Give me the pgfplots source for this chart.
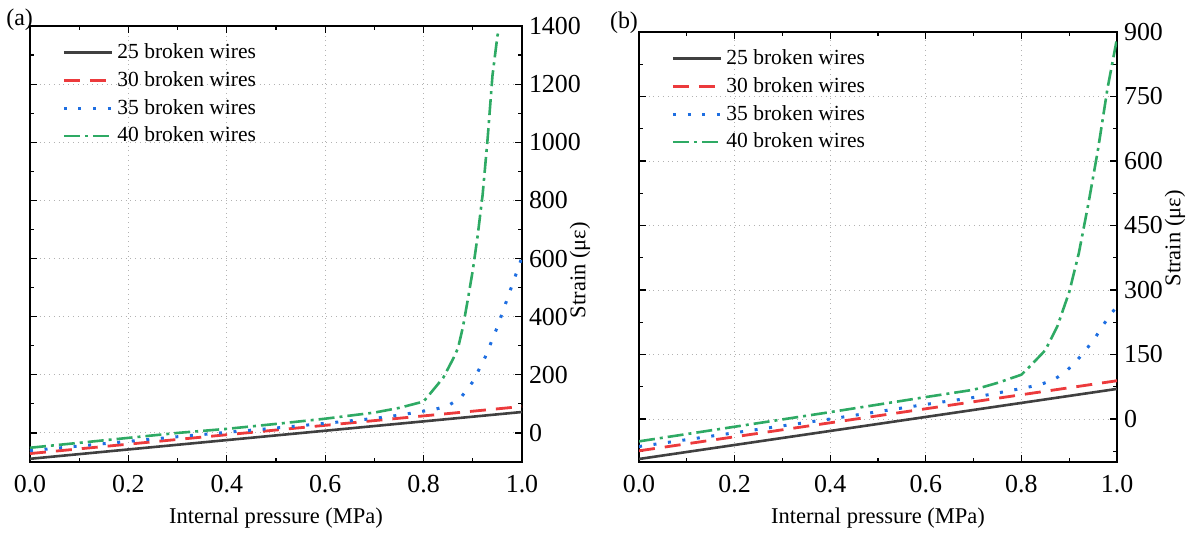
\documentclass[border=0pt]{standalone}
\usepackage{fontspec}
\setmainfont{Liberation Serif}
\usepackage{pgfplots}
\pgfplotsset{compat=1.18}
\definecolor{cblack}{RGB}{64,64,64}
\definecolor{cred}{RGB}{236,58,60}
\definecolor{cblue}{RGB}{30,110,225}
\definecolor{cgreen}{RGB}{46,170,100}
\pgfplotsset{
  myaxis/.style={
    scale only axis, xmin=0, xmax=1,
    xtick={0,0.2,0.4,0.6,0.8,1.0},
    minor xtick={0.1,0.3,0.5,0.7,0.9},
    tick align=inside, yticklabel pos=right,
    grid=major, grid style={dotted, gray!60, line width=0.45bp},
    axis line style={line width=0.6bp},
    major tick length=3.5bp, minor tick length=2bp,
    every tick/.style={black, line width=0.6bp},
    tick label style={font=\fontsize{13}{15}\selectfont},
    label style={font=\fontsize{11.3}{13.5}\selectfont},
    /pgf/number format/assume math mode=true,
    /pgf/number format/1000 sep={},
    xticklabel style={yshift=-3bp, /pgf/number format/fixed, /pgf/number format/fixed zerofill, /pgf/number format/precision=1},
    xlabel={Internal pressure (MPa)},
    ylabel={Strain (με)},
    xlabel style={at={(rel axis cs:0.5,0)}, yshift=-28bp, anchor=center},
    legend cell align=left,
    legend image code/.code={\draw[##1] (0bp,0bp) -- (24bp,0bp);},
    legend style={at={(rel axis cs:0,1)}, anchor=north west, xshift=16bp, yshift=-6.5bp,
      draw=none, fill=none, font=\fontsize{10.8}{13}\selectfont, inner xsep=0pt, inner ysep=0pt,
      row sep=1bp, nodes={inner sep=2pt, text depth=0.15em}},
  },
  s25/.style={cblack, line width=1.3bp},
  s30/.style={cred, line width=1.4bp, dash pattern=on 8bp off 5bp},
  s35/.style={cblue, line width=1.5bp, dash pattern=on 1.5bp off 5.8bp},
  s40/.style={cgreen, line width=1.3bp, dash pattern=on 8bp off 2.5bp on 1.5bp off 2.5bp},
}
\begin{document}
\begin{tikzpicture}
\useasboundingbox (0,0) rectangle (594.5bp,267bp);
\node[font=\fontsize{12}{14}\selectfont] at (9.8bp,257bp) {(a)};
\node[font=\fontsize{12}{14}\selectfont] at (312bp,255.5bp) {(b)};
\begin{axis}[myaxis, at={(15bp,36bp)}, anchor=south west, width=246bp, height=218bp,
  ymin=-100, ymax=1400, ytick={0,200,...,1400}, minor ytick={-100,100,300,500,700,900,1100,1300},
  ylabel style={at={(rel axis cs:1,0.44)}, yshift=-29bp, anchor=center}]
\addplot[s25] coordinates {(0,-89) (0.5,-8.5) (1,72)};
\addlegendentry{25 broken wires}
\addplot[s30] coordinates {(0,-71) (0.5,10) (1,91)};
\addlegendentry{30 broken wires}
\addplot[s35] coordinates {(0,-61) (0.1,-45) (0.2,-29) (0.3,-13) (0.4,2) (0.5,17) (0.6,33) (0.7,50) (0.75,61) (0.8,75) (0.825,82) (0.85,94) (0.875,120) (0.9,176) (0.925,260) (0.95,365) (0.975,485) (1.0,605)};
\addlegendentry{35 broken wires}
\addplot[s40] coordinates {(0,-51) (0.1,-34) (0.2,-17) (0.3,0) (0.4,14) (0.5,31) (0.6,49) (0.7,70) (0.75,86) (0.8,108) (0.84,190) (0.86,255) (0.87,292) (0.88,365) (0.89,460) (0.9,560) (0.91,680) (0.92,820) (0.93,1010) (0.94,1230) (0.95,1365) (0.953,1390)};
\addlegendentry{40 broken wires}
\end{axis}
\begin{axis}[myaxis, at={(319.5bp,36bp)}, anchor=south west, width=239bp, height=215bp,
  ymin=-100, ymax=900, ytick={0,150,...,900}, minor ytick={-75,75,225,375,525,675,825},
  ylabel style={at={(rel axis cs:1,0.52)}, yshift=-29bp, anchor=center}]
\addplot[s25] coordinates {(0,-93) (0.5,-11.5) (1,70)};
\addlegendentry{25 broken wires}
\addplot[s30] coordinates {(0,-74) (0.5,7.5) (1,89)};
\addlegendentry{30 broken wires}
\addplot[s35] coordinates {(0,-64) (0.2,-32) (0.4,0) (0.6,34) (0.7,50) (0.8,71) (0.84,80) (0.87,93) (0.89,108) (0.91,128) (0.935,161) (0.955,190) (0.97,217) (0.99,248) (1.0,262)};
\addlegendentry{35 broken wires}
\addplot[s40] coordinates {(0,-52) (0.2,-18) (0.4,16) (0.6,51) (0.7,68) (0.75,84) (0.8,103) (0.82,125) (0.85,160) (0.875,215) (0.9,295) (0.92,385) (0.94,500) (0.96,625) (0.98,768) (1.0,885)};
\addlegendentry{40 broken wires}
\end{axis}
\end{tikzpicture}
\end{document}
